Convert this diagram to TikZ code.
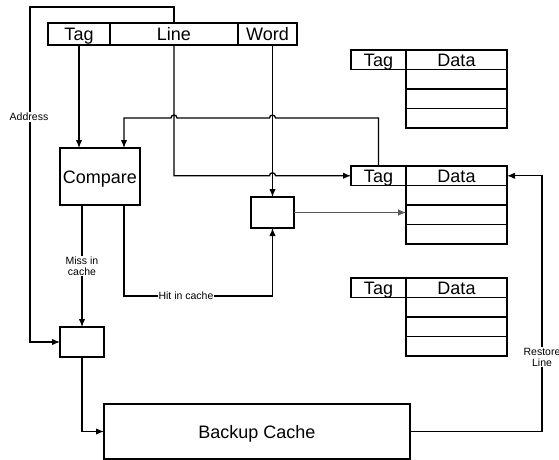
\documentclass[tikz,border=0pt]{standalone}
\usepackage{fontspec}
\setmainfont{Liberation Sans}
\usetikzlibrary{arrows.meta,calc}
\tikzset{
  box/.style={draw,rectangle,inner sep=0pt,outer sep=0pt,text height=13,text depth=0,font=\fontsize{18}{20}\selectfont},
  cell/.style={box,minimum height=19.5,anchor=north west},
  arr/.style={-{Latex[length=8pt,width=6.5pt]}},
  lbl/.style={fill=white,inner sep=1pt,align=center,font=\fontsize{10.5}{11}\selectfont}
}
\begin{document}
\begin{tikzpicture}[x=1pt,y=-1pt,line width=1.3pt]
\useasboundingbox (0,0) rectangle (559,460);
% address fields
\node[box,minimum width=62,minimum height=22] (tagf) at (79,34) {Tag};
\node[box,minimum width=128,minimum height=22] (linef) at (174,34) {Line};
\node[box,minimum width=59,minimum height=22] (wordf) at (267.5,34) {Word};
% compare and selectors
\node[box,minimum width=80,minimum height=57] (cmp) at (100,176.5) {Compare};
\node[box,minimum width=43,minimum height=31] (sel) at (272.5,212.5) {};
\node[box,minimum width=44,minimum height=30] (mux) at (82,342) {};
\node[box,minimum width=306,minimum height=55] (bk) at (257,431.5) {Backup Cache};
% cache lines
\foreach \i/\y in {1/50,2/166,3/278}{
  \node[cell,minimum width=55] (tag\i) at (351,\y) {Tag};
  \node[cell,minimum width=101] (data\i) at (406,\y) {Data};
  \foreach \j in {1,2,3}
    \node[cell,minimum width=101] (r\i\j) at (406,\y+\j*19.5) {};
}
\coordinate (addr) at (30,7);
\coordinate (fb) at (124,118);
\coordinate (hitc) at (186,296);
\coordinate (rst) at (542,300);
% address path
\draw[arr] (linef.north) |- (addr) |- (mux.west);
\node[lbl] (addrlbl) at (29,117) {Address};
\draw[arr] (tagf.south) -- (tagf.south |- cmp.north);
% line field to cache line tag
\draw[arr] (linef.south) |- ($(sel.north |- tag2.west)+(-3,0)$)
  arc[start angle=180,end angle=360,radius=3] -- (tag2.west);
\draw[arr] (sel.north |- wordf.south) -- (sel.north);
% tag fed back to compare
\draw[arr] (tag2.north) |- ($(sel.north |- fb)+(3,0)$)
  arc[start angle=0,end angle=-180,radius=3]
  -- ($(linef.south |- fb)+(3,0)$)
  arc[start angle=0,end angle=-180,radius=3]
  -- (fb) -- (fb |- cmp.north);
\draw[arr,gray!70!black,line width=1pt] (sel.east) -- (sel.east -| r22.west);
% miss and hit
\draw[arr] (mux.north |- cmp.south) -- node[lbl] (misslbl) {Miss in\\cache} (mux.north);
\draw[arr] (fb |- cmp.south) |- (hitc) -| (sel.south);
\node[lbl] (hitlbl) at (hitc) {Hit in cache};
\draw[arr] (mux.south) |- (bk.west);
% restore
\draw[arr] (bk.east) -| (rst) |- (data2.east);
\node[lbl] (rstlbl) at (542,357) {Restore\\Line};
\end{tikzpicture}
\end{document}
